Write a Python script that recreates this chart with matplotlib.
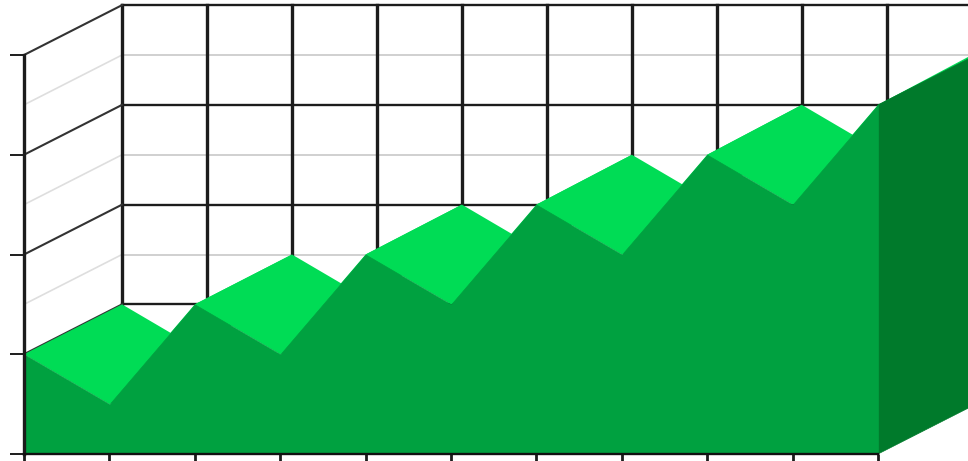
import numpy as np
import matplotlib
matplotlib.use('Agg')
import matplotlib.pyplot as plt

# valores da serie
categories = list(range(11))
values = [1.0, 0.5, 1.5, 1.0, 2.0, 1.5, 2.5, 2.0, 3.0, 2.5, 3.5]
y_major = [0, 1, 2, 3, 4]
y_minor = [0.5, 1.5, 2.5, 3.5]

# profundidade do grafico 3D, em unidades dos eixos
depth_x = 1.148
depth_y = 0.5
back_step = 0.995

color_top = '#00dc55'
color_front = '#00a140'
color_side = '#007a2b'
color_line = '#1c1c1c'

fig = plt.figure(figsize=(9.68, 4.61), dpi=100)
ax = fig.add_axes([24 / 968, 7 / 461, 944 / 968, 454 / 461])
ax.set_xlim(0, 944 / 85.4)
ax.set_ylim(0, 454 / 99.75)

x = np.array(categories, dtype=float)
y = np.array(values)


def back(px):
    return px * back_step + depth_x


# parede do fundo
y_top = max(y_major) + depth_y
for i in categories[:-1]:
    ax.plot([back(i)] * 2, [depth_y, y_top], color=color_line, lw=2.4, zorder=2)
for v in y_major:
    ax.plot([depth_x, 20], [v + depth_y] * 2, color=color_line, lw=1.7, zorder=2)
for v in y_minor:
    ax.plot([depth_x, 20], [v + depth_y] * 2, color='#c8c8c8', lw=1.2, zorder=1)

# parede da esquerda
for v in y_major:
    ax.plot([0, depth_x], [v, v + depth_y], color='#333333', lw=1.5, zorder=2)
for v in y_minor:
    ax.plot([0, depth_x], [v, v + depth_y], color='#dedede', lw=1.2, zorder=1)

# faces de cima da area
for i in categories[:-1]:
    ax.fill([x[i], x[i + 1], back(x[i + 1]), back(x[i])],
            [y[i], y[i + 1], y[i + 1] + depth_y, y[i] + depth_y],
            facecolor=color_top, lw=0, zorder=3)

# face lateral e face da frente
ax.fill([x[-1], x[-1] + depth_x, x[-1] + depth_x, x[-1]],
        [y[-1], y[-1] + depth_y, depth_y, 0],
        facecolor=color_side, edgecolor=color_side, lw=0.5, zorder=4)
ax.fill_between(x, 0, y, facecolor=color_front, edgecolor=color_front, lw=0.5, zorder=5)

# eixos
for side in ['top', 'right']:
    ax.spines[side].set_visible(False)
ax.spines['left'].set_bounds(0, max(y_major))
ax.spines['left'].set_linewidth(2.4)
ax.spines['left'].set_color(color_line)
ax.spines['bottom'].set_bounds(0, max(categories))
ax.spines['bottom'].set_linewidth(1.7)
ax.spines['bottom'].set_color('#111111')
for spine in ax.spines.values():
    spine.set_zorder(6)
ax.patch.set_alpha(0)

ax.set_xticks(categories)
ax.set_yticks(y_major)
ax.set_xticklabels([])
ax.set_yticklabels([])
ax.tick_params(axis='x', length=6, width=2.0, color=color_line)
ax.tick_params(axis='y', length=10, width=1.4, color=color_line)

fig.savefig('out.png', dpi=100)
